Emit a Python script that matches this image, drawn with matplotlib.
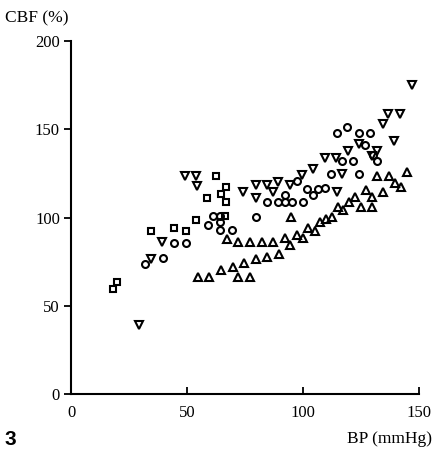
import matplotlib
matplotlib.use("Agg")
import matplotlib.pyplot as plt

# Data (BP mmHg, CBF %)
sq_x = [18.1, 19.8, 34.5, 44.4, 49.6, 53.9, 58.7, 62.6, 66.9, 64.7, 66.9, 66.4]
sq_y = [59.5, 63.5, 92.4, 94.1, 92.4, 98.6, 111.0, 123.5, 117.3, 113.3, 108.8, 100.8]

ci_x = [32.0, 39.7, 44.4, 49.6, 59.1, 61.3, 64.3, 64.3, 64.3, 69.5, 79.8, 84.6, 89.3,
        92.3, 92.3, 95.3, 100.1, 97.5, 101.8, 104.4, 106.6, 109.6, 112.2, 116.9, 121.7,
        124.2, 126.8, 132.0, 119.1, 114.8, 124.2, 129.0, 130.3]
ci_y = [73.7, 77.1, 85.6, 85.6, 95.8, 100.8, 100.8, 97.5, 92.9, 92.9, 100.3, 108.8, 108.8,
        112.7, 108.8, 108.8, 108.8, 120.7, 116.1, 112.7, 116.1, 116.7, 124.6, 132.0, 132.0,
        124.6, 141.1, 132.0, 151.3, 147.9, 147.9, 147.9, 135.4]

dn_x = [29.3, 34.5, 39.3, 49.2, 53.9, 54.4, 74.2, 79.8, 84.6, 89.3, 94.5, 99.7, 79.8,
        87.1, 104.4, 109.6, 114.3, 119.5, 114.8, 116.9, 124.2, 129.9, 132.0, 139.3,
        134.6, 136.8, 141.9, 147.1]
dn_y = [39.1, 76.5, 86.1, 123.5, 123.5, 117.8, 114.4, 118.4, 118.4, 120.1, 118.4, 124.1,
        111.0, 114.4, 127.5, 133.7, 133.7, 137.7, 114.4, 124.6, 141.6, 134.8, 137.7,
        143.3, 153.0, 158.6, 158.6, 175.1]

up_x = [54.8, 59.5, 64.7, 69.9, 72.0, 77.2, 74.6, 79.8, 84.6, 89.7, 67.3, 72.0, 77.2,
        82.4, 87.1, 92.3, 94.5, 97.5, 100.1, 102.2, 94.9, 105.3, 107.4, 110.0, 112.6,
        115.2, 117.3, 119.9, 122.5, 125.1, 127.3, 129.9, 129.9, 134.6, 132.0, 137.2,
        139.8, 142.4, 145.0]
up_y = [66.3, 66.3, 70.3, 72.0, 66.3, 66.3, 74.2, 76.5, 77.6, 79.3, 87.8, 86.1, 86.1,
        86.1, 86.1, 88.4, 84.4, 90.1, 88.4, 94.1, 100.3, 92.4, 97.5, 99.2, 100.3,
        106.0, 104.2, 108.8, 111.6, 106.0, 115.6, 111.6, 106.0, 114.4, 123.5, 123.5,
        119.5, 117.3, 125.8]

xticks = [0, 50, 100, 150]
yticks = [0, 50, 100, 150, 200]

serif = "Liberation Serif"

fig = plt.figure(figsize=(4.35, 4.53), dpi=100)
ax = fig.add_axes([71/435, 59/453, 348/435, 353/453])
ax.set_xlim(0, 150)
ax.set_ylim(0, 200)

common = dict(linestyle="none", markerfacecolor="none", markeredgecolor="black",
              markeredgewidth=1.5, clip_on=False)
ax.plot(sq_x, sq_y, marker="s", markersize=4.6, **common)
ax.plot(ci_x, ci_y, marker="o", markersize=5.0, **common)
ax.plot(dn_x, dn_y, marker="v", markersize=5.4, **common)
ax.plot(up_x, up_y, marker="^", markersize=5.4, **common)

for s in ["top", "right"]:
    ax.spines[s].set_visible(False)
for s in ["left", "bottom"]:
    ax.spines[s].set_linewidth(1.5)

ax.set_xticks(xticks)
ax.set_yticks(yticks)
ax.tick_params(axis="x", direction="in", length=5, width=1.3, pad=8)
ax.tick_params(axis="y", direction="out", length=5, width=1.3, pad=3)
for lab in ax.get_xticklabels() + ax.get_yticklabels():
    lab.set_fontfamily(serif)
    lab.set_fontsize(12)

fig.text(5/435, 1 - 22/453, "CBF (%)", fontfamily=serif, fontsize=12.5,
         ha="left", va="baseline")
fig.text(432/435, 1 - 443/453, "BP (mmHg)", fontfamily=serif, fontsize=12.5,
         ha="right", va="baseline")
fig.text(5/435, 1 - 445/453, "3", fontfamily="Liberation Sans", fontweight="bold",
         fontsize=15, ha="left", va="baseline")

fig.savefig("out.png", dpi=100)
